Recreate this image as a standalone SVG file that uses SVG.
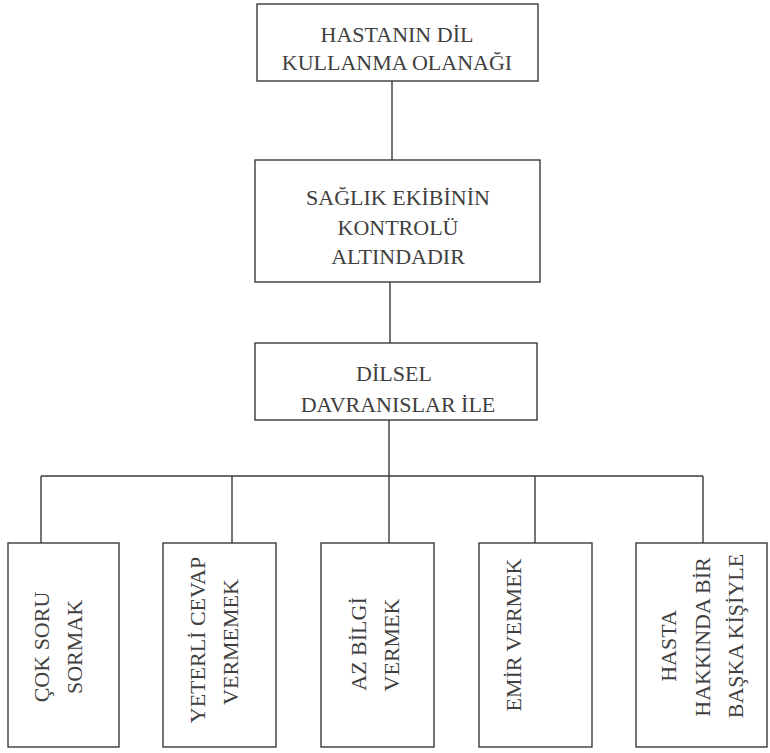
<svg xmlns="http://www.w3.org/2000/svg" width="770" height="753" viewBox="0 0 770 753">
<style>
.box{fill:#fff;stroke:#3a3a3a;stroke-width:1.4}
.ln{fill:none;stroke:#3a3a3a;stroke-width:1.4}
.t{font-family:"Liberation Serif","Times New Roman",serif;font-size:22px;fill:#404040;text-anchor:middle}
</style>
<rect width="770" height="753" fill="#fff"/>
<g id="connectors">
<path class="ln" d="M392 81V160M390 282V343M389 420V476M41 476H703M41 476V543M232 476V543M389 476V543M535 476V543M703 476V543"/>
</g>
<g id="n1">
<rect class="box" x="257" y="4" width="281" height="77"/>
<text class="t" x="397" y="42">HASTANIN DİL</text>
<text class="t" x="397" y="70">KULLANMA OLANAĞI</text>
</g>
<g id="n2">
<rect class="box" x="255" y="160" width="285" height="122"/>
<text class="t" x="398" y="205">SAĞLIK EKİBİNİN</text>
<text class="t" x="398" y="235">KONTROLÜ</text>
<text class="t" x="398" y="264">ALTINDADIR</text>
</g>
<g id="n3">
<rect class="box" x="255" y="343" width="282" height="77"/>
<text class="t" x="394" y="381">DİLSEL</text>
<text class="t" x="398" y="412">DAVRANISLAR İLE</text>
</g>
<g id="n4">
<rect class="box" x="8" y="543" width="111" height="204"/>
<text class="t" transform="translate(49 647) rotate(-90)">ÇOK SORU</text>
<text class="t" transform="translate(82 647) rotate(-90)">SORMAK</text>
</g>
<g id="n5">
<rect class="box" x="163" y="543" width="113" height="204"/>
<text class="t" transform="translate(205 640) rotate(-90)">YETERLİ CEVAP</text>
<text class="t" transform="translate(238 642) rotate(-90)">VERMEMEK</text>
</g>
<g id="n6">
<rect class="box" x="321" y="543" width="113" height="204"/>
<text class="t" transform="translate(366 644) rotate(-90)">AZ BİLGİ</text>
<text class="t" transform="translate(399 645) rotate(-90)">VERMEK</text>
</g>
<g id="n7">
<rect class="box" x="479" y="543" width="113" height="204"/>
<text class="t" transform="translate(521 635) rotate(-90)">EMİR VERMEK</text>
</g>
<g id="n8">
<rect class="box" x="636" y="543" width="131" height="204"/>
<text class="t" transform="translate(676 646) rotate(-90)">HASTA</text>
<text class="t" transform="translate(710 637) rotate(-90)">HAKKINDA BİR</text>
<text class="t" transform="translate(743 636) rotate(-90)">BAŞKA KİŞİYLE</text>
</g>
</svg>
